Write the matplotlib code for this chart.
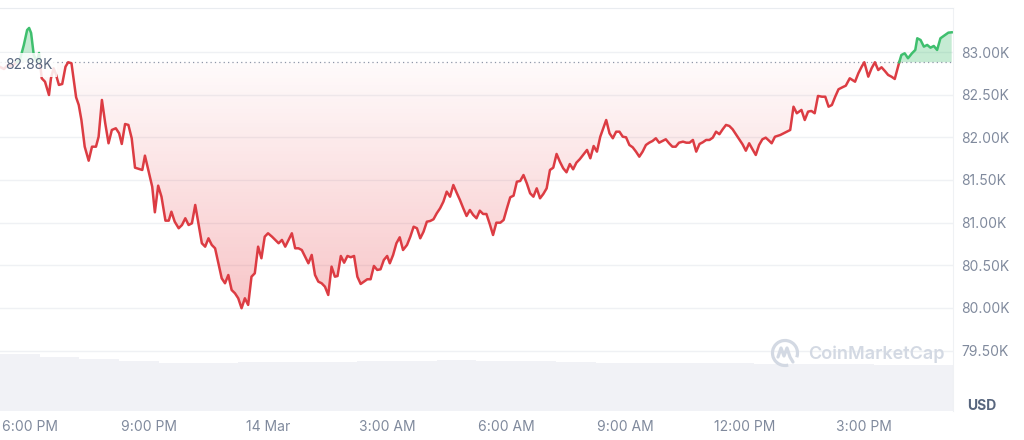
import numpy as np
import matplotlib
matplotlib.use("Agg")
import matplotlib.pyplot as plt
from matplotlib.patches import Arc

plt.rcParams['font.family'] = ['Inter', 'DejaVu Sans']

# ---- data (minutes since 13 Mar 17:15, price in thousands USD) ----
minutes = [0,6,12,18,24,30,36,41,44,47,
           51,56,59,63,68,74,77,81,84,89,
           94,99,103,108,115,119,123,128,134,139,
           145,149,154,159,164,169,175,180,184,189,
           194,199,204,210,215,219,224,230,234,239,
           244,250,255,259,264,270,275,280,285,290,
           295,305,310,315,320,325,330,335,340,345,
           350,355,360,365,370,375,380,385,390,395,
           400,405,411,416,421,426,431,436,441,446,
           451,456,461,466,471,476,481,486,491,496,
           501,506,510,515,520,525,530,535,540,545,
           550,555,560,565,570,575,580,585,589,594,
           599,604,609,615,620,625,630,635,640,645,
           650,655,660,665,670,675,680,685,690,695,
           700,705,710,715,720,725,730,735,740,745,
           750,756,761,766,771,776,781,786,791,796,
           801,806,811,816,821,826,831,836,841,846,
           851,856,861,866,871,876,881,887,892,897,
           902,907,912,916,921,926,931,936,941,946,
           951,956,961,966,971,976,981,986,991,996,
           1001,1006,1011,1016,1021,1026,1032,1037,1042,1047,
           1052,1057,1062,1067,1072,1077,1082,1087,1092,1097,
           1102,1107,1112,1117,1122,1127,1132,1137,1142,1147,
           1152,1157,1162,1166,1171,1179,1186,1194,1199,1204,
           1211,1216,1221,1226,1231,1236,1242,1247,1252,1257,
           1262,1267,1273,1278,1284,1292,1297,1302,1306,1312,
           1317,1322,1327,1332,1337,1342,1347,1352,1359,1362,
           1367,1372,1378,1383,1386,1391,1396,1401,1406,1411,
           1416,1421,1428,1433,1438]

prices = [82.825,82.801,82.848,82.836,82.871,82.907,83.082,83.258,83.282,83.223,
          82.965,82.883,82.989,82.692,82.652,82.496,82.692,82.809,82.751,82.614,
          82.625,82.828,82.880,82.868,82.469,82.379,82.203,81.890,81.726,81.890,
          81.890,82.007,82.438,82.165,81.930,82.086,82.106,82.047,81.922,82.156,
          82.145,81.989,81.644,81.629,81.617,81.785,81.617,81.421,81.121,81.433,
          81.304,81.023,81.023,81.128,81.011,80.934,80.972,81.051,80.972,80.992,
          81.207,80.758,80.718,80.816,80.738,80.699,80.523,80.347,80.289,80.386,
          80.210,80.172,80.113,79.996,80.113,80.035,80.366,80.406,80.718,80.582,
          80.835,80.875,80.835,80.797,80.758,80.797,80.718,80.797,80.875,80.699,
          80.699,80.679,80.601,80.523,80.621,80.386,80.308,80.289,80.249,80.152,
          80.484,80.366,80.374,80.609,80.530,80.609,80.594,80.609,80.366,80.281,
          80.308,80.336,80.336,80.492,80.445,80.453,80.562,80.609,80.523,80.621,
          80.758,80.828,80.679,80.738,80.835,80.952,80.934,80.816,80.894,81.011,
          81.019,81.039,81.110,81.168,81.246,81.363,81.304,81.441,81.351,81.265,
          81.168,81.078,81.148,81.090,81.051,81.140,81.101,81.101,80.984,80.855,
          80.999,80.999,81.031,81.168,81.297,81.316,81.480,81.488,81.558,81.461,
          81.344,81.304,81.402,81.285,81.336,81.402,81.617,81.644,81.805,81.714,
          81.637,81.590,81.687,81.625,81.703,81.743,81.793,81.852,81.754,81.898,
          81.832,82.007,82.118,82.203,82.047,81.989,82.066,82.066,82.007,82.000,
          81.910,81.883,81.832,81.773,81.832,81.910,81.937,81.957,81.989,81.937,
          81.957,81.977,81.930,81.890,81.890,81.937,81.949,81.937,81.937,81.969,
          81.832,81.922,81.942,81.969,81.969,81.996,82.066,82.036,82.094,82.145,
          82.133,82.094,82.036,81.977,81.918,81.843,81.930,81.860,81.793,81.910,
          81.977,81.996,81.961,81.930,82.007,82.027,82.054,82.086,82.359,82.282,
          82.321,82.203,82.301,82.309,82.282,82.485,82.476,82.476,82.359,82.379,
          82.476,82.563,82.587,82.605,82.692,82.652,82.751,82.828,82.880,82.711,
          82.809,82.880,82.789,82.821,82.778,82.731,82.711,82.684,82.887,82.965,
          82.985,82.927,82.985,83.024,83.161,83.141,83.063,83.083,83.051,83.071,
          83.024,83.161,83.200,83.227,83.231]

baseline = 82.88
baseline_label = "82.88K"

# hourly volume (relative units)
volume = [56.5, 54.0, 52.0, 49.5, 47.5, 47.8, 49.0, 49.0, 49.0, 50.0, 50.0, 50.3,
          49.5, 49.5, 48.5, 48.0, 48.0, 47.5, 47.4, 47.2, 46.8, 46.5, 46.0, 45.5]

x_tick_minutes = [45, 225, 405, 585, 765, 945, 1125, 1305]
x_tick_labels = ["6:00 PM", "9:00 PM", "14 Mar", "3:00 AM", "6:00 AM",
                 "9:00 AM", "12:00 PM", "3:00 PM"]
y_ticks = [79.5, 80.0, 80.5, 81.0, 81.5, 82.0, 82.5, 83.0]
y_tick_labels = ["79.50K", "80.00K", "80.50K", "81.00K", "81.50K",
                 "82.00K", "82.50K", "83.00K"]

RED = '#dc3c43'
GREEN = '#3fbf6e'
GRID = '#eff1f4'
TXT = '#808a9d'

# ---- figure ----
fig = plt.figure(figsize=(10.24, 4.40), dpi=100)
rect = [0.0, 0.06659, 0.93066, 0.91523]
axv = fig.add_axes(rect)
ax = fig.add_axes(rect, sharex=axv)
ax.patch.set_visible(False)

# volume bars
vol_x = np.arange(len(volume)) * 60 + 30
axv.bar(vol_x, volume, width=60, color='#f1f2f6', linewidth=0)
axv.set_ylim(0, max(volume) * 7.13)
axv.set_yticks([])
for s in axv.spines.values():
    s.set_visible(False)
axv.tick_params(axis='x', length=0)

t = np.array(minutes, float)
p = np.array(prices, float)

# insert crossing points for two-colour line
tt, pp = [t[0]], [p[0]]
for i in range(len(t) - 1):
    if (p[i] - baseline) * (p[i + 1] - baseline) < 0:
        f = (baseline - p[i]) / (p[i + 1] - p[i])
        tt.append(t[i] + f * (t[i + 1] - t[i]))
        pp.append(baseline)
    tt.append(t[i + 1])
    pp.append(p[i + 1])
tt = np.array(tt)
pp = np.array(pp)

red_y = np.where(pp <= baseline + 1e-9, pp, np.nan)
green_y = np.where(pp >= baseline - 1e-9, pp, np.nan)

# red gradient fill (between line and baseline)
poly = ax.fill_between(tt, np.minimum(pp, baseline), baseline,
                       facecolor='none', edgecolor='none')
pmin = pp.min()
n = 256
grad = np.zeros((n, 1, 4))
rgb = np.array([0.91, 0.25, 0.28])
grad[:, 0, :3] = rgb
grad[:, 0, 3] = np.linspace(0.02, 0.30, n)  # top -> bottom
img = ax.imshow(grad, aspect='auto', extent=[tt[0], tt[-1], pmin, baseline],
                origin='upper', zorder=1, interpolation='bilinear')
img.set_clip_path(poly.get_paths()[0], transform=ax.transData)

# green fill
ax.fill_between(tt, np.maximum(pp, baseline), baseline,
                facecolor=GREEN, alpha=0.3, edgecolor='none', zorder=1)

ax.plot(tt, red_y, color=RED, lw=1.8, zorder=3, solid_joinstyle='round')
ax.plot(tt, green_y, color=GREEN, lw=1.8, zorder=3, solid_joinstyle='round')

# baseline
ax.axhline(baseline, color='#8e97a8', lw=0.9, ls=(0, (1, 2.5)), zorder=2)
ax.text(0.005, baseline - 0.03, baseline_label, transform=ax.get_yaxis_transform(),
        ha='left', va='center', fontsize=10, color='#58667e', zorder=5,
        bbox=dict(boxstyle='square,pad=0.35', fc='white', ec='none', alpha=0.85))

# axes
ax.set_xlim(0, 1440)
ax.set_ylim(78.795, 83.516)
ax.set_yticks(y_ticks)
ax.set_yticklabels(y_tick_labels)
ax.yaxis.tick_right()
ax.tick_params(axis='y', length=0, pad=6, labelsize=10, labelcolor=TXT)
ax.set_xticks(x_tick_minutes)
ax.set_xticklabels(x_tick_labels)
ax.tick_params(axis='x', length=0, pad=7, labelsize=10, labelcolor=TXT)
axv.tick_params(axis='x', labelbottom=False)
ax.grid(axis='y', color=GRID, lw=1)
ax.set_axisbelow(True)
for side in ['left', 'bottom']:
    ax.spines[side].set_visible(False)
ax.spines['top'].set_color('#e9ecf0')
ax.spines['right'].set_color('#eff1f4')

# USD label
fig.text(982 / 1024, 1 - 406 / 440, "USD", ha='center', va='center',
         fontsize=10, fontweight='bold', color='#58667e')

# watermark
fig.text(808 / 1024, 1 - 354 / 440, "CoinMarketCap", ha='left', va='center',
         fontsize=13, fontweight='semibold', color='#d3d9e3')
lax = fig.add_axes([770 / 1024, 1 - 368 / 440, 30 / 1024, 30 / 440])
lax.set_xlim(-15, 15)
lax.set_ylim(-15, 15)
lax.axis('off')
lax.add_patch(Arc((0, 0), 25, 25, theta1=-20, theta2=285, color='#d3d9e3', lw=2.3))
lax.plot([-7, -4, -1, 2, 5, 8], [-4, 5, -3, 5, -4, -9], color='#d3d9e3', lw=2.3,
         solid_joinstyle='round', solid_capstyle='round')

fig.savefig('out.png', dpi=100)
